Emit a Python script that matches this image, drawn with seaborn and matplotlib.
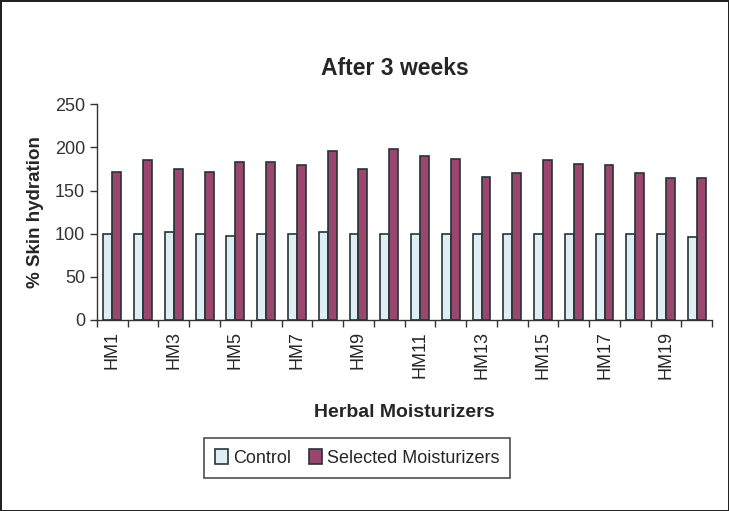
import numpy as np
import pandas as pd
import matplotlib.pyplot as plt
import seaborn as sns

sns.set_theme(style="ticks")
plt.rcParams['font.family'] = ['Liberation Sans', 'DejaVu Sans']

# data
moisturizers = [f"HM{i}" for i in range(1, 21)]
control = [100, 100, 102, 100, 97, 100, 100, 102, 100, 100,
           100, 100, 100, 100, 100, 100, 100, 100, 100, 96]
selected = [171, 185, 175, 172, 183, 183, 180, 196, 175, 198,
            190, 186, 166, 170, 185, 181, 179, 170, 165, 165]

df = pd.DataFrame({
    'Moisturizer': moisturizers * 2,
    'Hydration': control + selected,
    'Group': ['Control'] * 20 + ['Selected Moisturizers'] * 20,
})

palette = {'Control': '#DCEEF7', 'Selected Moisturizers': '#A8386E'}

fig = plt.figure(figsize=(7.29, 5.11), dpi=100)
fig.patch.set_edgecolor('#222222')
fig.patch.set_linewidth(2)
ax = fig.add_axes([0.133, 0.374, 0.844, 0.422])

sns.barplot(data=df, x='Moisturizer', y='Hydration', hue='Group',
            palette=palette, width=0.58, edgecolor='#263535', linewidth=1.2,
            ax=ax, legend=True)

ax.set_ylim(0, 250)
ax.set_xlim(-0.5, 19.5)
ax.set_yticks([0, 50, 100, 150, 200, 250])
ax.tick_params(axis='y', labelsize=13, length=5, width=1, colors='#333333')

# ticks between groups, labels on every other group
ax.set_xticks(np.arange(-0.5, 20, 1))
ax.set_xticklabels([])
ax.tick_params(axis='x', which='major', length=5, width=1, colors='#333333')
ax.set_xticks(np.arange(0, 20, 2), minor=True)
ax.set_xticklabels(moisturizers[::2], minor=True, rotation=90, fontsize=13)
ax.tick_params(axis='x', which='minor', length=0, pad=8)

sns.despine(ax=ax)
for s in ['left', 'bottom']:
    ax.spines[s].set_color('#333333')
    ax.spines[s].set_linewidth(1)

ax.set_xlabel('Herbal Moisturizers', fontsize=14, fontweight='bold', labelpad=18)
ax.set_ylabel('% Skin hydration', fontsize=13.5, fontweight='bold', labelpad=8)
fig.text(0.542, 0.866, 'After 3 weeks', fontsize=16.5, fontweight='bold',
         ha='center', va='center')

handles, labels = ax.get_legend_handles_labels()
ax.get_legend().remove()
leg = fig.legend(handles, labels, loc='center', bbox_to_anchor=(0.49, 0.104),
                 ncol=2, fontsize=13, frameon=True, fancybox=False,
                 handlelength=0.7, handleheight=0.9, handletextpad=0.3,
                 columnspacing=1.0, borderpad=0.6)
leg.get_frame().set_edgecolor('#222222')
leg.get_frame().set_linewidth(1.2)

fig.savefig('out.png', dpi=100)
